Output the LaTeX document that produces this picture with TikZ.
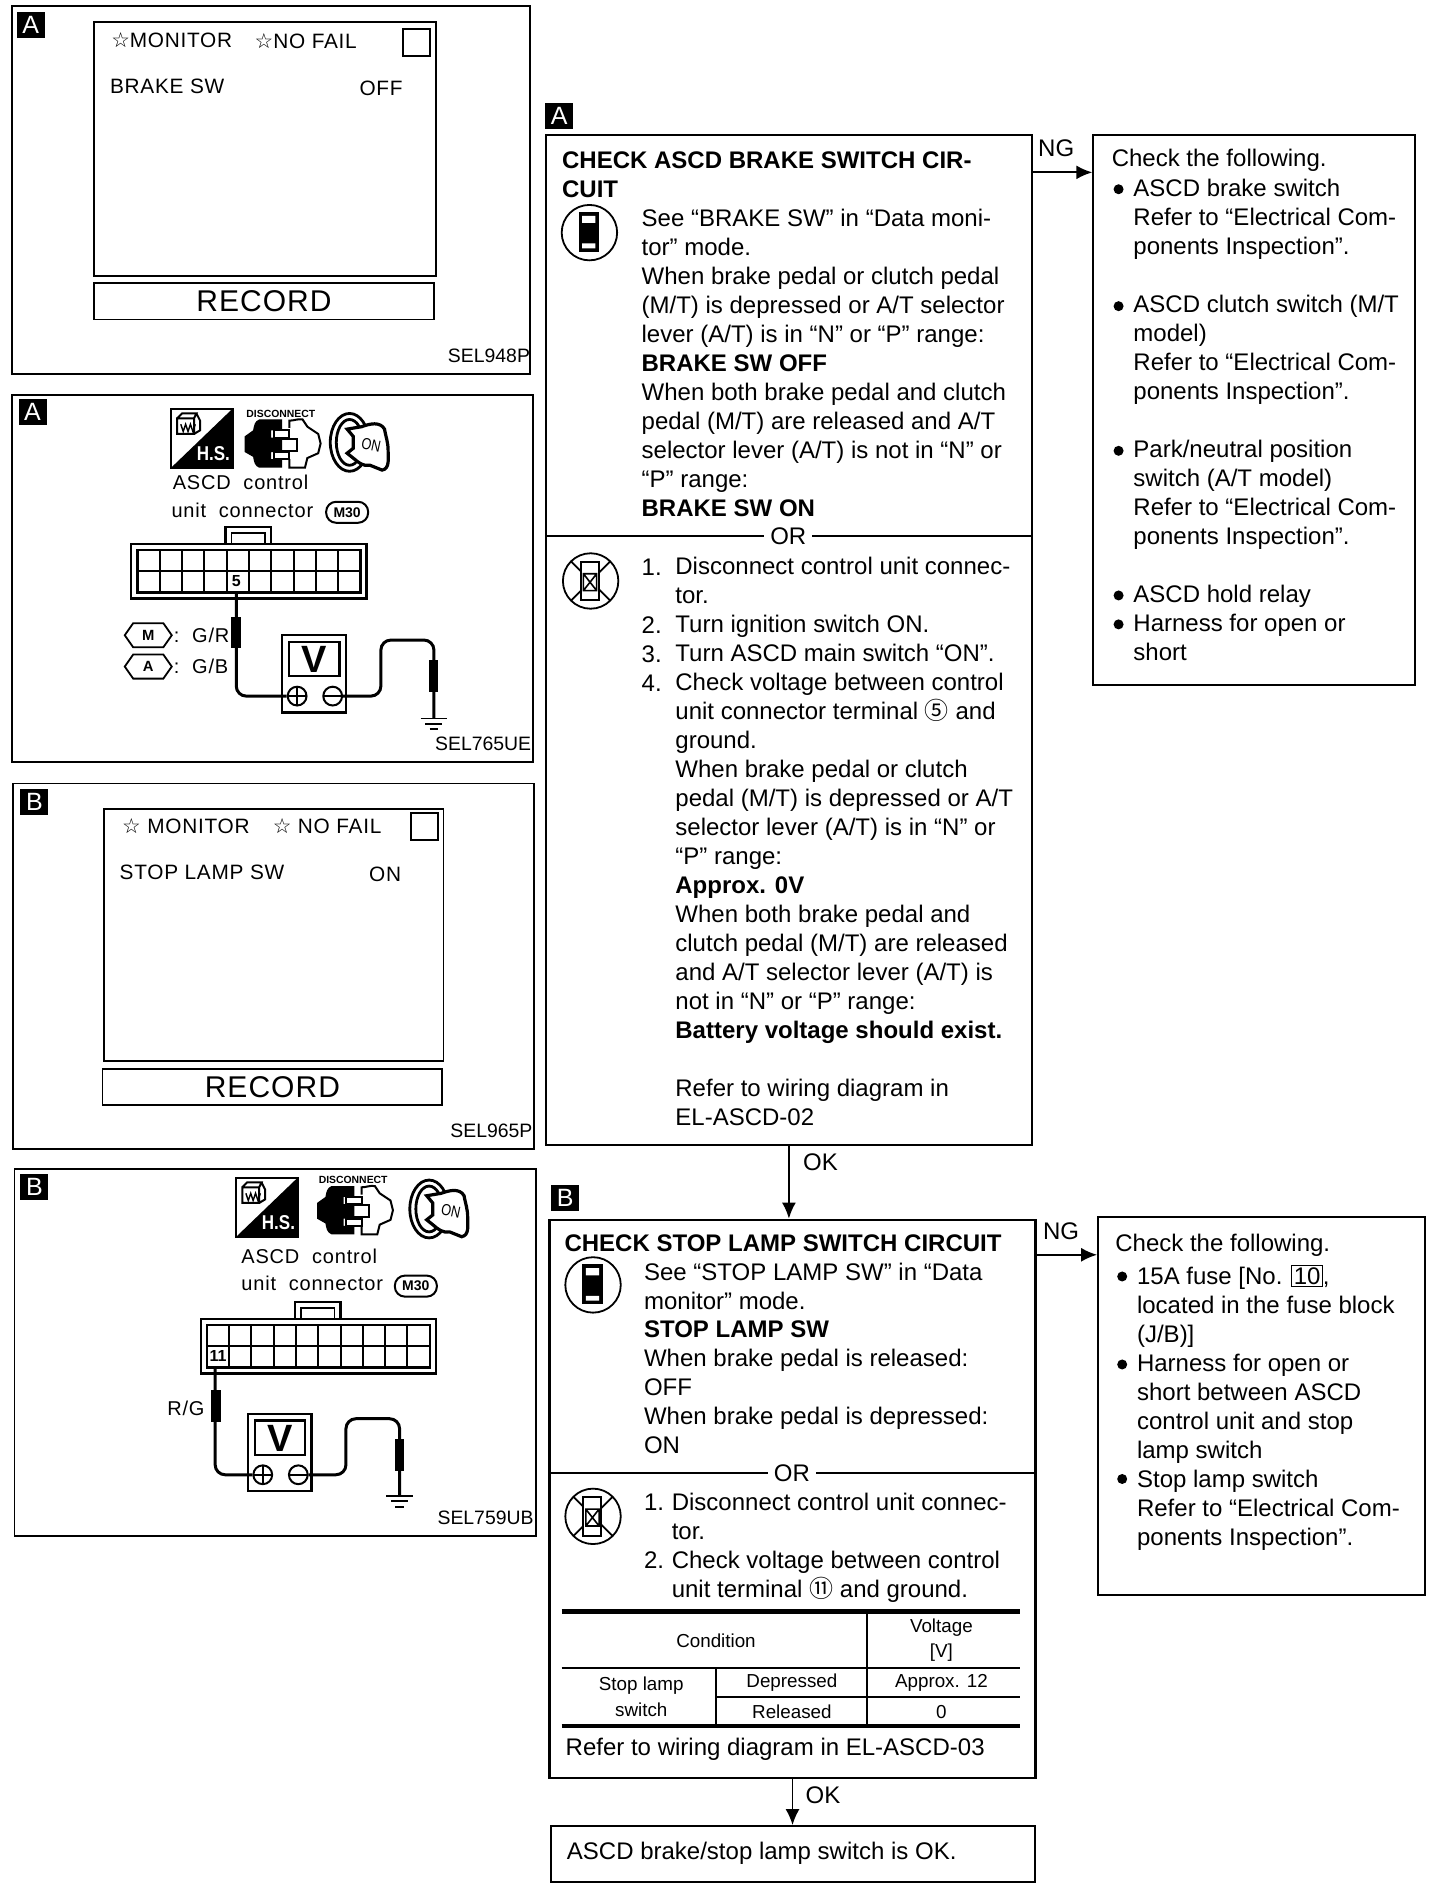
\documentclass[tikz,border=0pt]{standalone}
\usepackage{fontspec}
\setmainfont{Liberation Sans}
\newfontfamily\symfont{DejaVu Sans}
\newfontfamily\ringfont{Noto Sans CJK JP}
\newfontfamily\screenfont[LetterSpace=3.5]{Liberation Sans}
\newfontfamily\labelfont[LetterSpace=4]{Liberation Sans}
\usetikzlibrary{arrows.meta,fit}
\setlength{\fboxsep}{0.8pt}
\newcommand{\bodyfont}{\fontsize{12}{14.49}\selectfont}
\tikzset{
    bodytext/.style={font=\bodyfont, anchor=north west, inner sep=0pt, yshift=-0.7pt, align=left, execute at begin node={\rule{0pt}{9pt}}},
    headtext/.style={bodytext, font=\bodyfont\bfseries},
    tabletext/.style={font=\fontsize{9.4}{11}\selectfont, inner sep=0pt, align=center},
    screentext/.style={font=\fontsize{10.4}{12}\screenfont, anchor=west, inner sep=0pt},
    paneltext/.style={font=\fontsize{10}{12}\labelfont, anchor=west, inner sep=0pt},
    codetext/.style={font=\fontsize{9.7}{12}\selectfont, anchor=east, inner sep=0pt},
    panelbox/.style={draw, line width=0.9pt, inner sep=0pt},
    flowbox/.style={draw, line width=1.2pt, inner sep=0pt},
    tagbox/.style={fill=black, text=white, font=\fontsize{12.5}{14}\selectfont, inner sep=0pt, minimum width=14pt, minimum height=13pt},
    badgebox/.style={draw, line width=1pt, rounded corners=5pt, inner sep=0pt, minimum width=21pt, minimum height=10.5pt, font=\fontsize{7}{8}\bfseries},
    flowarrow/.style={line width=0.9pt, -{Latex[length=8pt,width=7pt]}},
    ruleline/.style={line width=0.9pt},
    thickrule/.style={line width=2.2pt},
    wire/.style={line width=1.5pt, rounded corners=5pt},
    orlabel/.style={fill=white, font=\bodyfont, inner sep=3pt},
    dotmark/.style={circle, fill=black, inner sep=0pt, minimum size=5pt},
    pics/hsicon/.style={code={
        \draw[line width=1pt] (0,0) rectangle (51,49);
        \fill (51,0) -- (51,49) -- (0,49) -- cycle;
        \node[text=white, inner sep=0pt, font=\fontsize{10}{11}\bfseries, xscale=0.85] (-hs) at (35,37) {H.S.};
        \draw[line width=1pt] (5,8) rectangle (19,21) (5,8) -- (9,4) -- (21,4) -- (19,8) (21,4) -- (24,10) -- (24,18) -- (19,21);
        \draw[line width=0.7pt] (8,13) -- (10,19) -- (12,13) -- (14,19) -- (16,13) -- (18,19) -- (20,13);
    }},
    pics/plugicon/.style={code={
        \node[inner sep=0pt, font=\fontsize{5.2}{6}\bfseries] (-dis) at (30,-5) {DISCONNECT};
        \fill (31,0) -- (12,0) to[out=200,in=80] (7,9) -- (0,14) -- (0,27) -- (7,31) to[out=280,in=160] (12,40) -- (31,40) -- (31,33) -- (22,33) -- (22,27) -- (31,27) -- (31,15) -- (22,15) -- (22,9) -- (31,9) -- cycle;
        \draw[line width=1pt] (37,7) -- (37,1) to[out=0,in=170] (48,0) -- (52,6) -- (61,12) -- (63,20) -- (61,28) -- (52,32) -- (50,40) -- (37,40) -- (37,33);
        \draw[line width=1pt] (24,9) rectangle (37,15) (24,27) rectangle (37,33);
        \draw[line width=1pt] (31,16) -- (43,16) -- (43,26) -- (31,26);
    }},
    pics/keyicon/.style={code={
        \draw[line width=1.4pt] (17,25) ellipse (16 and 24);
        \draw[line width=1.4pt] (17,25) ellipse (11 and 19);
        \draw[line width=1.6pt, fill=white] (15,14) -- (27,12) to[out=20,in=120] (46,14) to[out=-80,in=90] (49,32) to[out=-90,in=10] (44,48) -- (34,44) to[out=190,in=-40] (20,38) -- (15,34) -- (20,30) -- (20,20) -- cycle;
        \node[inner sep=0pt, font=\fontsize{8}{9}\selectfont, rotate=-12, xscale=0.8] (-on) at (35,27) {ON};
    }},
    pics/connblock/.style={code={
        \draw[line width=1.1pt] (78,14) -- (78,0) -- (116,0) -- (116,14);
        \draw[line width=0.9pt] (83,14) -- (83,5) -- (111,5) -- (111,14);
        \draw[line width=1.1pt] (0,14) rectangle (195,59.5);
        \draw[line width=1.1pt] (5,19) rectangle (190,54.5);
        \draw[line width=1pt] (5,37) -- (190,37);
        \foreach \col in {1,...,9}
            \draw[line width=1pt] ({5+18.5*\col},19) -- ({5+18.5*\col},54.5);
    }},
    pics/voltmeter/.style={code={
        \draw[line width=1.2pt, fill=white] (0,0) rectangle (53,64);
        \draw[line width=1.2pt] (6,5.5) rectangle (47.5,34);
        \node[inner sep=0pt, font=\fontsize{19}{20}\bfseries] (-v) at (27,20) {V};
        \node[draw, circle, line width=1pt, fill=white, inner sep=0pt, minimum size=9.4pt] (-plus) at (12.5,50.5) {};
        \node[draw, circle, line width=1pt, fill=white, inner sep=0pt, minimum size=9.4pt] (-minus) at (42,50.5) {};
        \draw[line width=0.8pt] (5,50.5) -- (20,50.5) (12.5,43) -- (12.5,58) (34.5,50.5) -- (49.5,50.5);
    }},
    pics/groundsym/.style={code={
        \coordinate (-top) at (0,0);
        \draw[line width=0.9pt] (-11,0) -- (11,0);
        \draw[line width=0.9pt] (-7,4.5) -- (7,4.5);
        \draw[line width=1.2pt] (-3.5,9) -- (3.5,9);
    }},
    pics/hexbadge/.style={code={
        \draw[line width=0.9pt] (0,0) -- (7,-10) -- (32,-10) -- (39,0) -- (32,10) -- (7,10) -- cycle;
        \node[inner sep=0pt, font=\fontsize{7.4}{8}\bfseries] (-t) at (19.5,0) {#1};
    }},
}
\begin{document}
\begin{tikzpicture}[x=0.6025pt, y=-0.6025pt]
    \useasboundingbox (0,0) rectangle (1195,1568);

    % screen A
    \node[panelbox, fit={(10,5) (440,310)}] (panelA) {};
    \node[tagbox] (tagA) at (25.5,20.5) {A};
    \node[panelbox, fit={(78,18) (362,229)}] (screenA) {};
    \node[screentext] (monA) at (92,33) {{\symfont ☆}MONITOR};
    \node[screentext] (failA) at (211,34) {{\symfont ☆}NO FAIL};
    \node[draw, line width=1.1pt, minimum size=13.5pt, inner sep=0pt] (flagA) at (345.5,35.5) {};
    \node[screentext] (brakeA) at (91,72) {BRAKE SW};
    \node[screentext] (offA) at (298,73) {OFF};
    \node[panelbox, fit={(78,235) (360,265)}] (recA) {};
    \node[inner sep=0pt, font=\fontsize{15}{18}\screenfont] (recAt) at (219,250) {RECORD};
    \node[codetext] (selA) at (440,295) {SEL948P};

    % connector A
    \node[panelbox, fit={(10,328) (442,632)}] (panelC) {};
    \node[tagbox] (tagC) at (27,341.5) {A};
    \pic (hsC) at (142,339) {hsicon};
    \pic (plugC) at (203,348) {plugicon};
    \pic (keyC) at (273,342) {keyicon};
    \node[paneltext] (ascdC) at (143,400) {ASCD\ \ control};
    \node[paneltext] (unitC) at (142,423) {unit\ \ connector};
    \node[badgebox] (badgeC) at (288,425) {M30};
    \pic (conC) at (109,437) {connblock};
    \node[fill=white, inner sep=0.8pt, font=\fontsize{8}{9}\bfseries] (pinC) at (196,482) {5};
    \coordinate (wireC) at (196,491);
    \pic (hexM) at (103.5,527) {hexbadge={M}};
    \pic (hexT) at (103.5,553) {hexbadge={A}};
    \node[paneltext] (grC) at (144,527.5) {:\ \ G/R};
    \node[paneltext] (gbC) at (144,552.5) {:\ \ G/B};
    \pic (metC) at (234,527) {voltmeter};
    \draw[wire] (wireC) |- (metC-plus);
    \fill (192,512) rectangle (200,538);
    \pic (gndC) at (360,596) {groundsym};
    \draw[wire] (metC-minus) -| (316,531) -| (gndC-top);
    \fill (356,547.5) rectangle (363.5,574);
    \node[codetext] (selC) at (441,617) {SEL765UE};

    % screen B
    \node[panelbox, fit={(11,650) (443,953)}] (panelB) {};
    \node[tagbox] (tagB) at (28.5,665.5) {B};
    \node[panelbox, fit={(86,671) (368,880)}] (screenB) {};
    \node[screentext] (monB) at (101,685) {{\symfont ☆}\ MONITOR};
    \node[screentext] (failB) at (226,685) {{\symfont ☆}\ NO FAIL};
    \node[draw, line width=1.1pt, minimum size=13.5pt, inner sep=0pt] (flagB) at (352,686) {};
    \node[screentext] (stopB) at (99,724) {STOP LAMP SW};
    \node[screentext] (onB) at (306,725) {ON};
    \node[panelbox, fit={(85,887) (367,917)}] (recB) {};
    \node[inner sep=0pt, font=\fontsize{15}{18}\screenfont] (recBt) at (226,902) {RECORD};
    \node[codetext] (selB) at (442,938) {SEL965P};

    % connector B
    \node[panelbox, fit={(12,970) (445,1274)}] (panelD) {};
    \node[tagbox] (tagD) at (28.5,985) {B};
    \pic (hsD) at (196,977) {hsicon};
    \pic (plugD) at (263,984) {plugicon};
    \pic (keyD) at (339,978) {keyicon};
    \node[paneltext] (ascdD) at (200,1042) {ASCD\ \ control};
    \node[paneltext] (unitD) at (200,1065) {unit\ \ connector};
    \node[badgebox] (badgeD) at (345,1067) {M30};
    \pic (conD) at (166.5,1080) {connblock};
    \node[fill=white, inner sep=0.8pt, font=\fontsize{8}{9}\bfseries] (pinD) at (181,1125) {11};
    \coordinate (wireD) at (178.5,1134);
    \node[paneltext, anchor=east] (rgD) at (170,1168) {R/G};
    \pic (metD) at (205.5,1173) {voltmeter};
    \draw[wire] (wireD) |- (metD-plus);
    \fill (175,1153.5) rectangle (183,1180);
    \pic (gndD) at (331.5,1241) {groundsym};
    \draw[wire] (metD-minus) -| (287,1177) -| (gndD-top);
    \fill (327.5,1193.5) rectangle (335.5,1220.5);
    \node[codetext] (selD) at (443,1259) {SEL759UB};

    % check A
    \node[tagbox] (tagE) at (464,96) {A};
    \node[flowbox, fit={(453,112) (856,950)}] (boxA) {};
    \node[headtext] (titleA) at (466,124) {CHECK ASCD BRAKE SWITCH CIR-\\CUIT};
    \draw[line width=0.9pt] (489,193) circle (23);
    \fill (480,176) rectangle (497,209);
    \fill[white] (483,179) rectangle (494,185) (483,202) rectangle (494,206);
    \node[bodytext] (dataA) at (532,172) {See “BRAKE SW” in “Data moni-\\tor” mode.\\When brake pedal or clutch pedal\\(M/T) is depressed or A/T selector\\lever (A/T) is in “N” or “P” range:\\\textbf{BRAKE SW OFF}\\When both brake pedal and clutch\\pedal (M/T) are released and A/T\\selector lever (A/T) is not in “N” or\\“P” range:\\\textbf{BRAKE SW ON}};
    \draw[ruleline] (boxA.west |- 0,445) -- (boxA.east |- 0,445);
    \node[orlabel] (orA) at (654,445) {OR};
    \draw[line width=0.9pt] (490,482) circle (23) (474,466) -- (506,498) (506,466) -- (474,498);
    \draw[line width=1pt, fill=white] (482,466) rectangle (497,498);
    \draw[line width=0.8pt] (484,476) rectangle (495,490) (484,476) -- (495,490) (495,476) -- (484,490);
    \foreach \y/\n in {469/1,517/2,541/3,565/4}
        \node[bodytext] (numA\n) at (532,\y-8) {\n.};
    \node[bodytext] (stepsA) at (560,461) {Disconnect control unit connec-\\tor.\\Turn ignition switch ON.\\Turn ASCD main switch “ON”.\\Check voltage between control\\unit connector terminal {\ringfont ⑤} and\\ground.\\When brake pedal or clutch\\pedal (M/T) is depressed or A/T\\selector lever (A/T) is in “N” or\\“P” range:\\\textbf{Approx. 0V}\\When both brake pedal and\\clutch pedal (M/T) are released\\and A/T selector lever (A/T) is\\not in “N” or “P” range:\\\textbf{Battery voltage should exist.}\\ \\Refer to wiring diagram in\\EL-ASCD-02};

    % list A
    \node[flowbox, line width=1pt, fit={(907,112) (1174,568)}] (listA) {};
    \node[bodytext] (followA) at (922,122) {Check the following.};
    \foreach \y [count=\i] in {157,254,374,494,518}
        \node[dotmark] (dotA\i) at (928,\y) {};
    \node[bodytext] (itemsA) at (940,147) {ASCD brake switch\\Refer to “Electrical Com-\\ponents Inspection”.\\ \\ASCD clutch switch (M/T\\model)\\Refer to “Electrical Com-\\ponents Inspection”.\\ \\Park/neutral position\\switch (A/T model)\\Refer to “Electrical Com-\\ponents Inspection”.\\ \\ASCD hold relay\\Harness for open or\\short};
    \coordinate (ngA) at (0,143);
    \draw[flowarrow] (boxA.east |- ngA) -- (listA.west |- ngA);
    \node[bodytext] (ngAt) at (861,113) {NG};

    % check B
    \node[inner sep=0pt, anchor=west, font=\bodyfont] (okAt) at (666,964) {OK};
    \node[tagbox] (tagF) at (469,994) {B};
    \node[flowbox, fit={(456,1012) (859,1475)}] (boxB) {};
    \draw[flowarrow] (boxA.south) -- (boxA.south |- boxB.north);
    \node[headtext] (titleB) at (468,1022) {CHECK STOP LAMP SWITCH CIRCUIT};
    \draw[line width=0.9pt] (492,1066) circle (23);
    \fill (483,1049) rectangle (500,1082);
    \fill[white] (486,1052) rectangle (497,1058) (486,1075) rectangle (497,1079);
    \node[bodytext] (dataB) at (534,1046) {See “STOP LAMP SW” in “Data\\monitor” mode.\\\textbf{STOP LAMP SW}\\When brake pedal is released:\\OFF\\When brake pedal is depressed:\\ON};
    \draw[ruleline] (boxB.west |- 0,1222) -- (boxB.east |- 0,1222);
    \node[orlabel] (orB) at (657,1222) {OR};
    \draw[line width=0.9pt] (492,1258) circle (23) (476,1242) -- (508,1274) (508,1242) -- (476,1274);
    \draw[line width=1pt, fill=white] (484,1242) rectangle (499,1274);
    \draw[line width=0.8pt] (486,1252) rectangle (497,1266) (486,1252) -- (497,1266) (497,1252) -- (486,1266);
    \foreach \y/\n in {1246/1,1294/2}
        \node[bodytext] (numB\n) at (534,\y-9) {\n.};
    \node[bodytext] (stepsB) at (557,1237) {Disconnect control unit connec-\\tor.\\Check voltage between control\\unit terminal {\ringfont ⑪} and ground.};

    % table
    \draw[thickrule] (466,1337) -- (846,1337);
    \draw[ruleline] (466,1384) -- (846,1384) (594,1408) -- (846,1408);
    \draw[ruleline] (719,1337) -- (719,1432) (594,1384) -- (594,1432);
    \draw[thickrule] (466,1432) -- (846,1432);
    \node[tabletext] (condT) at (594,1361) {Condition};
    \node[tabletext] (voltT) at (781,1361) {Voltage\\[1.5pt][V]};
    \node[tabletext] (stopT) at (532,1408) {Stop lamp\\[2pt]switch};
    \node[tabletext] (deprT) at (657,1396) {Depressed};
    \node[tabletext] (relT) at (657,1420) {Released};
    \node[tabletext] (apprT) at (781,1396) {Approx. 12};
    \node[tabletext] (zeroT) at (781,1420) {0};
    \node[bodytext] (referB) at (469,1440) {Refer to wiring diagram in EL-ASCD-03};

    % list B
    \node[flowbox, line width=1pt, fit={(911,1010) (1182,1323)}] (listB) {};
    \node[bodytext] (followB) at (925,1022) {Check the following.};
    \foreach \y [count=\i] in {1059,1132,1227}
        \node[dotmark] (dotB\i) at (931,\y) {};
    \node[bodytext] (itemsB) at (943,1048) {15A fuse [No. \fbox{10},\\located in the fuse block\\(J/B)]\\Harness for open or\\short between ASCD\\control unit and stop\\lamp switch\\Stop lamp switch\\Refer to “Electrical Com-\\ponents Inspection”.};
    \coordinate (ngB) at (0,1041);
    \draw[flowarrow] (boxB.east |- ngB) -- (listB.west |- ngB);
    \node[bodytext] (ngBt) at (865,1012) {NG};

    % result
    \node[flowbox, line width=1pt, fit={(457,1515) (859,1561)}] (result) {};
    \draw[flowarrow] (boxB.south) -- (boxB.south |- result.north);
    \node[inner sep=0pt, anchor=west, font=\bodyfont] (okBt) at (668,1489) {OK};
    \node[bodytext] (resultT) at (470,1526) {ASCD brake/stop lamp switch is OK.};
\end{tikzpicture}
\end{document}
